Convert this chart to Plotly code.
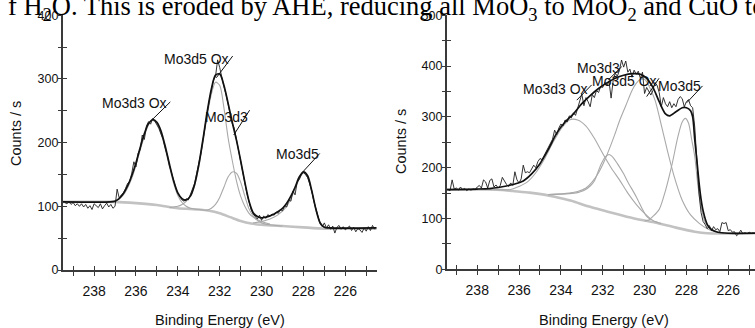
import numpy as np
import plotly.graph_objects as go

# ---------------- DATA ----------------
# measured spectra, 0.1 eV steps starting at 239.4 eV (decreasing)
E0_left = 239.4
counts_left = [
    106, 104, 107, 103, 106, 101, 104, 100, 104, 99,
    103, 97, 101, 95, 104, 101, 98, 104, 96, 101,
    105, 99, 103, 97, 100, 127, 113, 118, 121, 128,
    136, 139, 152, 170, 162, 183, 189, 212, 205, 226,
    233, 229, 238, 234, 228, 222, 213, 205, 191, 180,
    164, 152, 138, 129, 120, 115, 110, 108, 112, 110,
    118, 126, 136, 152, 166, 183, 204, 228, 246, 265,
    282, 298, 304, 330, 318, 300, 288, 276, 262, 248,
    230, 222, 206, 190, 172, 155, 137, 120, 106, 95,
    88, 84, 80, 86, 78, 85, 81, 87, 84, 88,
    86, 91, 89, 95, 93, 101, 99, 110, 108, 124,
    118, 138, 142, 150, 153, 150, 145, 135, 124, 108,
    95, 82, 72, 68, 74, 66, 71, 64, 69, 58,
    67, 70, 64, 68, 63, 66, 69, 62, 67, 60,
    65, 63, 59, 66, 61, 68, 62, 70, 64,
]
E0_right = 239.4
counts_right = [
    157, 155, 176, 158, 160, 156, 162, 157, 159, 155,
    158, 156, 158, 157, 162, 165, 160, 176, 172, 160,
    175, 178, 162, 166, 160, 165, 181, 174, 167, 163,
    170, 165, 192, 176, 170, 178, 205, 190, 192, 190,
    198, 205, 200, 212, 218, 216, 224, 232, 240, 250,
    256, 274, 265, 278, 286, 282, 294, 290, 302, 298,
    308, 303, 318, 328, 345, 322, 338, 330, 320, 344,
    338, 352, 348, 360, 358, 368, 362, 370, 337, 372,
    386, 380, 392, 412, 398, 410, 388, 394, 378, 392,
    384, 390, 376, 388, 346, 358, 350, 343, 352, 368,
    362, 348, 320, 338, 326, 320, 330, 318, 326, 320,
    334, 340, 336, 320, 330, 334, 322, 318, 280, 206,
    150, 112, 94, 88, 80, 86, 76, 84, 78, 80,
    74, 92, 90, 92, 76, 78, 73, 74, 66, 70,
    77, 70, 72, 70, 73, 71, 72, 71,
]
STEP = 0.1

# fitted envelope (left)
env_l_E = [239.5, 237.2, 237.0, 236.8, 236.6, 236.4, 236.2, 236.0, 235.8, 235.6, 235.4, 235.2, 235.0,
           234.8, 234.6, 234.4, 234.2, 234.0, 233.8, 233.6, 233.4, 233.2, 233.0, 232.8, 232.6, 232.4,
           232.2, 232.0, 231.8, 231.6, 231.4, 231.2, 231.0, 230.8, 230.6, 230.4, 230.2, 230.0, 229.8,
           229.6, 229.4, 229.2, 229.0, 228.8, 228.6, 228.4, 228.2, 228.0, 227.8, 227.6, 227.4, 227.2,
           227.0, 226.8, 224.5]
env_l = [107, 107, 108, 112, 120, 132, 148, 168, 192, 214, 230, 236, 232,
         218, 194, 166, 140, 121, 112, 110, 116, 134, 165, 205, 248, 284,
         306, 308, 290, 262, 232, 204, 172, 138, 108, 90, 84, 82, 83,
         85, 88, 92, 97, 105, 116, 130, 146, 154, 148, 124, 95, 74,
         67, 66, 66]
# background (left)
bg_l_E = [239.5, 237.0, 236.0, 235.0, 234.0, 233.0, 232.5, 232.0, 231.5, 231.0, 230.5, 230.0, 229.0, 228.0, 227.0, 224.5]
bg_l = [107, 107, 105, 102, 97, 95, 93, 89, 83, 77, 73, 71, 69, 67, 65, 65]
# components (left)
c1_l_E = [237.4, 237.0, 236.6, 236.2, 235.8, 235.6, 235.4, 235.2, 235.0, 234.8, 234.6, 234.4, 234.2, 234.0, 233.8, 233.6, 233.4, 233.0]
c1_l = [107, 109, 118, 144, 188, 210, 228, 235, 230, 214, 190, 162, 136, 117, 106, 100, 97, 95]
c2_l_E = [234.4, 234.0, 233.8, 233.6, 233.4, 233.2, 233.0, 232.8, 232.6, 232.4, 232.2, 232.0, 231.8, 231.6,
          231.4, 231.2, 231.0, 230.8, 230.6, 230.4, 230.2, 230.0, 229.6]
c2_l = [98, 100, 103, 108, 116, 133, 162, 200, 242, 276, 295, 290, 255, 208,
        172, 140, 116, 100, 89, 83, 79, 76, 72]
c3_l_E = [233.0, 232.6, 232.4, 232.2, 232.0, 231.8, 231.6, 231.4, 231.2, 231.0, 230.8, 230.6, 230.4, 230.2, 230.0, 229.6, 229.0]
c3_l = [95, 94, 97, 103, 114, 130, 146, 154, 152, 138, 116, 96, 85, 78, 74, 71, 69]
c4_l_E = [230.4, 230.0, 229.6, 229.2, 228.8, 228.6, 228.4, 228.2, 228.0, 227.8, 227.6, 227.4, 227.2, 227.0, 226.6]
c4_l = [74, 76, 80, 87, 100, 112, 127, 143, 152, 146, 122, 94, 74, 67, 65]

# fitted envelope (right)
env_r_E = [239.46, 238.0, 237.4, 237.0, 236.6, 236.2, 235.8, 235.4, 235.0, 234.6, 234.2, 233.8, 233.4,
           233.0, 232.6, 232.2, 231.8, 231.4, 231.0, 230.6, 230.2, 229.9, 229.6, 229.3, 229.0, 228.8,
           228.5, 228.2, 228.0, 227.8, 227.7, 227.6, 227.5, 227.4, 227.3, 227.2, 227.0, 226.8, 226.5,
           226.0, 224.7]
env_r = [157, 158, 159, 161, 164, 168, 174, 188, 208, 236, 268, 290, 306,
         326, 342, 356, 367, 376, 382, 385, 384, 376, 358, 330, 306, 302,
         310, 318, 318, 312, 300, 255, 215, 172, 138, 115, 88, 78, 73,
         71, 71]
bg_r_E = [239.46, 237.5, 236.8, 236.3, 235.5, 234.8, 234.3, 233.5, 232.7, 231.8, 230.8, 230.0, 229.5, 228.5, 227.6, 227.0, 224.7]
bg_r = [157, 157, 156, 154, 151, 147, 143, 135, 124, 114, 103, 96, 92, 82, 74, 71, 71]
c1_r_E = [237.4, 236.4, 236.0, 235.6, 235.2, 234.8, 234.4, 234.0, 233.6, 233.2, 232.8, 232.4, 232.0,
          231.6, 231.2, 230.8, 230.4, 230.0, 229.6, 229.2]
c1_r = [157, 157, 163, 172, 190, 216, 248, 276, 294, 294, 282, 258, 228,
        200, 176, 150, 128, 110, 96, 90]
c2_r_E = [234.6, 233.6, 233.2, 232.9, 232.6, 232.4, 232.1, 231.9, 231.7, 231.5, 231.3, 231.0, 230.8,
          230.4, 230.1, 229.9, 229.7]
c2_r = [147, 149, 151, 155, 164, 174, 205, 220, 226, 220, 208, 188, 172,
        143, 118, 104, 98]
c3_r_E = [234.6, 233.6, 233.2, 232.8, 232.5, 232.2, 231.9, 231.6, 231.4, 231.2, 230.9, 230.6, 230.4,
          230.2, 230.0, 229.8, 229.5, 229.2, 228.9, 228.6, 228.2, 227.8, 227.4, 227.0, 226.6, 226.2]
c3_r = [147, 150, 153, 160, 172, 190, 215, 246, 268, 292, 322, 352, 366,
        374, 374, 362, 333, 284, 232, 185, 136, 107, 91, 80, 74, 71]
c4_r_E = [230.0, 229.8, 229.6, 229.3, 229.0, 228.7, 228.4, 228.2, 228.05, 227.9, 227.75, 227.6, 227.45,
          227.3, 227.1, 226.9, 226.6, 226.2]
c4_r = [95, 97, 104, 118, 155, 204, 262, 290, 297, 288, 256, 222, 165,
        124, 92, 82, 75, 71]

peak_labels = ["Mo3d3 Ox", "Mo3d5 Ox", "Mo3d3", "Mo3d5"]
x_tick_vals = list(range(225, 240))
y_tick_left = list(range(0, 401, 50))
y_tick_right = list(range(0, 501, 50))

# ---------------- LAYOUT HELPERS ----------------
W, H = 755, 328
def px_x(p): return p / W
def px_y(p): return 1 - p / H

FONT = "Liberation Sans, Arial, sans-serif"
AXC = "#3a3a3a"
GRAY = "#a9a9a9"
BGGRAY = "#c2c2c2"

E_left = [round(E0_left - STEP * i, 2) for i in range(len(counts_left))]
E_right = [round(E0_right - STEP * i, 2) for i in range(len(counts_right))]

fig = go.Figure()

def add_panel(xa, ya, bgE, bg, comps, Edata, data, envE, env):
    fig.add_trace(go.Scatter(x=bgE, y=bg, mode="lines", line=dict(color=BGGRAY, width=2.6, shape="spline", smoothing=0.6),
                             xaxis=xa, yaxis=ya, hoverinfo="skip", showlegend=False))
    for cE, c in comps:
        fig.add_trace(go.Scatter(x=cE, y=c, mode="lines", line=dict(color=GRAY, width=1.1, shape="spline", smoothing=0.8),
                                 xaxis=xa, yaxis=ya, hoverinfo="skip", showlegend=False))
    fig.add_trace(go.Scatter(x=Edata, y=data, mode="lines", line=dict(color="#1e1e1e", width=0.9),
                             xaxis=xa, yaxis=ya, hoverinfo="skip", showlegend=False))
    fig.add_trace(go.Scatter(x=envE, y=env, mode="lines", line=dict(color="#111111", width=1.7, shape="spline", smoothing=0.8),
                             xaxis=xa, yaxis=ya, hoverinfo="skip", showlegend=False))

add_panel("x", "y", bg_l_E, bg_l, [(c1_l_E, c1_l), (c2_l_E, c2_l), (c3_l_E, c3_l), (c4_l_E, c4_l)],
          E_left, counts_left, env_l_E, env_l)
add_panel("x2", "y2", bg_r_E, bg_r, [(c1_r_E, c1_r), (c2_r_E, c2_r), (c3_r_E, c3_r), (c4_r_E, c4_r)],
          E_right, counts_right, env_r_E, env_r)
# dummy traces for overlay (inside-tick) axes
fig.add_trace(go.Scatter(x=[], y=[], xaxis="x3", yaxis="y3", showlegend=False))
fig.add_trace(go.Scatter(x=[], y=[], xaxis="x4", yaxis="y4", showlegend=False))

xr_left = [239.5, 224.5]
xr_right = [239.46, 224.72]
dom_xl = [px_x(62.7), px_x(376.7)]
dom_xr = [px_x(446.7), 1.0]
dom_yl = [px_y(270.0), px_y(15.3)]
dom_yr = [px_y(269.3), px_y(15.3)]

xtext = [str(v) if v % 2 == 0 else "" for v in x_tick_vals]
ytext_l = [str(v) if v % 100 == 0 else "" for v in y_tick_left]
ytext_r = [str(v) if v % 100 == 0 else "" for v in y_tick_right]

def xaxis(dom, rng, anchor, main=True, overlay=None):
    d = dict(domain=dom, range=rng, anchor=anchor, tickmode="array", tickvals=x_tick_vals,
             showgrid=False, zeroline=False, ticklen=4, tickwidth=1.3, tickcolor=AXC, automargin=False)
    if main:
        d.update(ticks="outside", ticktext=xtext, showline=True, linecolor=AXC, linewidth=1.6,
                 tickfont=dict(family=FONT, size=14, color="#111"), ticklabelstandoff=3)
    else:
        d.update(ticks="inside", showticklabels=False, showline=False, overlaying=overlay)
    return d

def yaxis(dom, rng, anchor, vals, text, main=True, overlay=None):
    d = dict(domain=dom, range=rng, anchor=anchor, tickmode="array", tickvals=vals,
             showgrid=False, zeroline=False, ticklen=3, tickwidth=1.3, tickcolor=AXC, automargin=False)
    if main:
        d.update(ticks="outside", ticktext=text, showline=True, linecolor=AXC, linewidth=1.6,
                 tickfont=dict(family=FONT, size=12.5, color="#111"), ticklabelstandoff=-3)
    else:
        d.update(ticks="inside", ticklen=4, showticklabels=False, showline=False, overlaying=overlay)
    return d

fig.update_layout(
    width=W, height=H, margin=dict(l=0, r=0, t=0, b=0, pad=0, autoexpand=False),
    paper_bgcolor="white", plot_bgcolor="white", showlegend=False,
    xaxis=xaxis(dom_xl, xr_left, "y"),
    yaxis=yaxis(dom_yl, [0, 400], "x", y_tick_left, ytext_l),
    xaxis2=xaxis(dom_xr, xr_right, "y2"),
    yaxis2=yaxis(dom_yr, [0, 500], "x2", y_tick_right, ytext_r),
    xaxis3=xaxis(dom_xl, xr_left, "y3", main=False, overlay="x"),
    yaxis3=yaxis(dom_yl, [0, 400], "x3", y_tick_left, ytext_l, main=False, overlay="y"),
    xaxis4=xaxis(dom_xr, xr_right, "y4", main=False, overlay="x2"),
    yaxis4=yaxis(dom_yr, [0, 500], "x4", y_tick_right, ytext_r, main=False, overlay="y2"),
)

# peak labels and leader lines
lab_pos_left = [(236.09, 262), (233.10, 332), (231.68, 241), (228.30, 182)]
lead_left = [((235.32, 233), (234.36, 264)), ((232.16, 302), (231.38, 336)),
             ((231.33, 212), (230.57, 251)), ((228.06, 153), (227.22, 183))]
lab_pos_right = [(234.25, 355), (232.21, 397), (230.95, 371), (228.35, 360)]
lab_right_order = [0, 2, 1, 3]
lead_right = [((233.24, 333), (232.53, 363)), ((231.73, 373), (231.09, 399)),
              ((229.90, 340), (229.31, 376)), ((227.98, 328), (227.23, 361))]

anns = []
shapes = []
for i, (ex, vy) in enumerate(lab_pos_left):
    anns.append(dict(x=ex, y=vy, xref="x", yref="y", text=peak_labels[i], showarrow=False,
                     xanchor="center", yanchor="middle", font=dict(family=FONT, size=14, color="#111")))
for (a, b) in lead_left:
    shapes.append(dict(type="line", xref="x", yref="y", x0=a[0], y0=a[1], x1=b[0], y1=b[1],
                       line=dict(color="#111", width=1)))
for k, (ex, vy) in enumerate(lab_pos_right):
    anns.append(dict(x=ex, y=vy, xref="x2", yref="y2", text=peak_labels[lab_right_order[k]], showarrow=False,
                     xanchor="center", yanchor="middle", font=dict(family=FONT, size=14, color="#111")))
for (a, b) in lead_right:
    shapes.append(dict(type="line", xref="x2", yref="y2", x0=a[0], y0=a[1], x1=b[0], y1=b[1],
                       line=dict(color="#111", width=1)))

# axis titles
title_font = dict(family=FONT, size=14.5, color="#111")
anns.append(dict(x=px_x(219.7), y=px_y(320), xref="paper", yref="paper", text="Binding Energy (eV)",
                 xanchor="center", yanchor="middle", showarrow=False, font=title_font))
anns.append(dict(x=px_x(604.2), y=px_y(320), xref="paper", yref="paper", text="Binding Energy (eV)",
                 xanchor="center", yanchor="middle", showarrow=False, font=title_font))
anns.append(dict(x=px_x(16), y=px_y(134), xref="paper", yref="paper", text="Counts / s", textangle=-90,
                 xanchor="center", yanchor="middle", showarrow=False, font=title_font))
anns.append(dict(x=px_x(401), y=px_y(142), xref="paper", yref="paper", text="Counts / s", textangle=-90,
                 xanchor="center", yanchor="middle", showarrow=False, font=title_font))

# cut-off body text line at the top of the page
anns.append(dict(x=px_x(6), y=px_y(-11), xref="paper", yref="paper", xanchor="left", yanchor="top",
                 text="f H<sub>2</sub>O. This is eroded by AHE, reducing all MoO<sub>3</sub> to MoO<sub>2</sub> and CuO to",
                 showarrow=False, font=dict(family="Liberation Serif, Times New Roman, serif", size=26.5, color="#000")))

fig.update_layout(annotations=anns, shapes=shapes)
fig.write_html("out.html")
